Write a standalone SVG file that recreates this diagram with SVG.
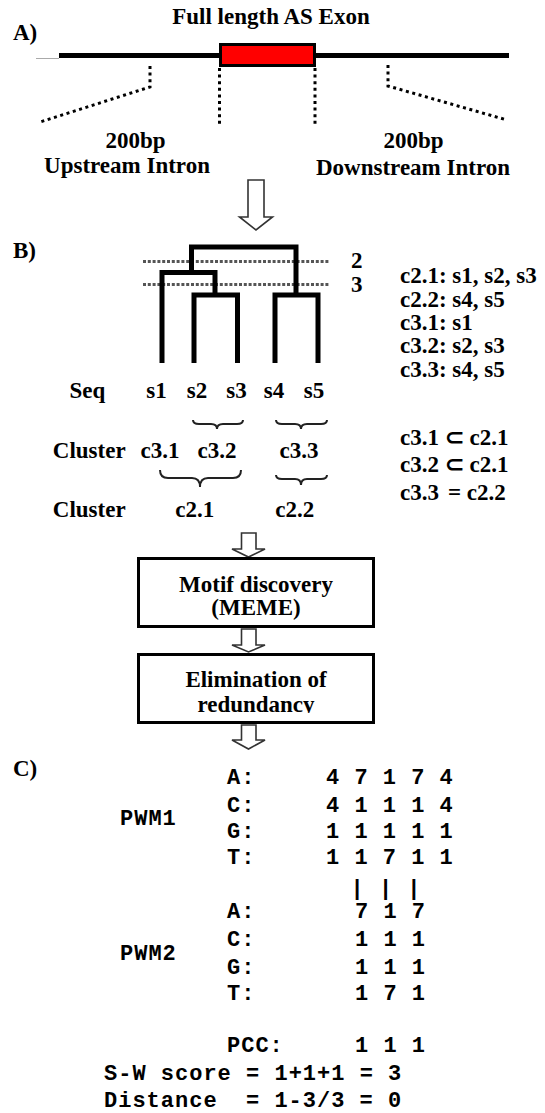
<svg xmlns="http://www.w3.org/2000/svg" width="545" height="1113" viewBox="0 0 545 1113">
<defs>
<style>
.t{font-family:"Liberation Serif","Times New Roman",serif;font-weight:bold;font-size:23px;fill:#000}
.m{font-family:"Liberation Mono","Courier New",monospace;font-weight:bold;font-size:22px;letter-spacing:1px;fill:#000}
.c{text-anchor:middle}
.dot{fill:none;stroke:#000;stroke-width:3;stroke-dasharray:3 3.6}
.gdot{fill:none;stroke:#555;stroke-width:3;stroke-dasharray:3 1.8}
.tree{fill:none;stroke:#000;stroke-width:5;stroke-linejoin:miter;stroke-linecap:butt}
.arr{fill:#fff;stroke:#333;stroke-width:1.6;stroke-linejoin:miter}
.brace{fill:none;stroke:#222;stroke-width:2}
.box{fill:#fff;stroke:#000;stroke-width:3}
</style>
<clipPath id="clipRed"><rect x="130" y="690" width="250" height="23"/></clipPath>
</defs>
<rect width="545" height="1113" fill="#fff"/>

<g id="sectionA">
<text class="t" x="13" y="40">A)</text>
<text class="t c" x="271" y="24">Full length AS Exon</text>
<line x1="36" y1="58.5" x2="59" y2="58.5" stroke="#aaa" stroke-width="1"/>
<line x1="59" y1="55.5" x2="509" y2="55.5" stroke="#000" stroke-width="5"/>
<rect id="exon" x="220.5" y="44.5" width="94" height="21" fill="#f00" stroke="#000" stroke-width="3"/>
<polyline class="dot" points="150,66 150,87 40,122"/>
<line class="dot" x1="219.5" y1="68" x2="219.5" y2="125"/>
<line class="dot" x1="315" y1="68" x2="315" y2="125"/>
<polyline class="dot" points="388,65 388,86 507,120"/>
<text class="t c" x="135.5" y="148">200bp</text>
<text class="t c" x="127" y="173">Upstream Intron</text>
<text class="t c" x="413.5" y="148">200bp</text>
<text class="t c" x="413" y="175">Downstream Intron</text>
</g>

<g id="sectionB">
<text class="t" x="13" y="258">B)</text>
<line class="gdot" x1="143" y1="261.5" x2="330" y2="261.5"/>
<line class="gdot" x1="143" y1="284.5" x2="330" y2="284.5"/>
<path class="tree" d="M162,363 V272.5 H215 V295 M194,363 V295 H237.5 V363 M191.5,272.5 V247 H296 V295 M275,363 V295 H318 V363 M159.5,272.5 H164.5 M191.5,295 H196.5 M235,295 H240 M272.5,295 H277.5 M315.5,295 H320.5 M189,247 H194 M293.5,247 H298.5 M212.5,272.5 H217.5"/>
<text class="t" x="351" y="268">2</text>
<text class="t" x="351" y="292">3</text>
<text class="t" x="400" y="283">c2.1: s1, s2, s3</text>
<text class="t" x="400" y="307">c2.2: s4, s5</text>
<text class="t" x="400" y="330">c3.1: s1</text>
<text class="t" x="400" y="353">c3.2: s2, s3</text>
<text class="t" x="400" y="377">c3.3: s4, s5</text>
<text class="t" x="69.5" y="398">Seq</text>
<text class="t c" x="156.5" y="398">s1</text>
<text class="t c" x="197" y="398">s2</text>
<text class="t c" x="236.5" y="398">s3</text>
<text class="t c" x="274" y="398">s4</text>
<text class="t c" x="314" y="398">s5</text>
<path class="brace" d="M193,420 Q193,424 199,424 L211,424 Q217,424 217,429 Q217,424 223,424 L237,424 Q243,424 243,420"/>
<path class="brace" d="M276,420 Q276,424 282,424 L295,424 Q301,424 301,429 Q301,424 307,424 L321,424 Q327,424 327,420"/>
<text class="t" x="52.8" y="458">Cluster</text>
<text class="t c" x="160" y="458">c3.1</text>
<text class="t c" x="217" y="458">c3.2</text>
<text class="t c" x="299" y="458">c3.3</text>
<path class="brace" d="M160,470 Q160,478 168,478 L192,478 Q200,478 200,487 Q200,478 208,478 L233,478 Q241,478 241,470"/>
<path class="brace" d="M276,475 Q276,479 282,479 L295,479 Q301,479 301,485 Q301,479 307,479 L321,479 Q327,479 327,475"/>
<text class="t" x="52.8" y="517">Cluster</text>
<text class="t c" x="194.7" y="517">c2.1</text>
<text class="t c" x="294.7" y="517">c2.2</text>
<text class="t" x="400" y="445">c3.1 ⊂ c2.1</text>
<text class="t" x="400" y="472">c3.2 ⊂ c2.1</text>
<text class="t" x="400" y="500">c3.3</text>
<text class="t" x="448" y="500">= c2.2</text>
</g>

<g id="connectors">
<path class="arr" d="M248,180 H264 V217 H272.5 L256,230 L239.5,217 H248 Z"/>
<path class="arr" d="M241.5,533 H256 V549 H265 L248.5,557 L232,549 H241.5 Z"/>
<path class="arr" d="M241.5,629 H256 V645 H265 L248.5,652 L232,645 H241.5 Z"/>
<path class="arr" d="M241.5,725 H256 V740 H265 L248.5,749 L232,740 H241.5 Z"/>
</g>

<g id="node-motif">
<rect class="box" x="138.5" y="558.5" width="235" height="68"/>
<text class="t c" x="256" y="592">Motif discovery</text>
<text class="t c" x="256" y="615">(MEME)</text>
</g>

<g id="node-elimination">
<rect class="box" x="138.5" y="654.5" width="235" height="68"/>
<text class="t c" x="256" y="687">Elimination of</text>
<text class="t c" x="256" y="712" clip-path="url(#clipRed)">redundancy</text>
</g>

<g id="sectionC">
<text class="t" x="13" y="776">C)</text>
<text class="m" x="120" y="825">PWM1</text>
<text class="m" x="227" y="784">A:</text>
<text class="m" x="326" y="784">4 7 1 7 4</text>
<text class="m" x="227" y="812">C:</text>
<text class="m" x="326" y="812">4 1 1 1 4</text>
<text class="m" x="227" y="838">G:</text>
<text class="m" x="326" y="838">1 1 1 1 1</text>
<text class="m" x="227" y="864">T:</text>
<text class="m" x="326" y="864">1 1 7 1 1</text>
<text class="m" x="350.5" y="895">| | |</text>
<text class="m" x="120" y="960">PWM2</text>
<text class="m" x="227" y="918">A:</text>
<text class="m" x="355" y="918">7 1 7</text>
<text class="m" x="227" y="946">C:</text>
<text class="m" x="355" y="946">1 1 1</text>
<text class="m" x="227" y="974">G:</text>
<text class="m" x="355" y="974">1 1 1</text>
<text class="m" x="227" y="1000">T:</text>
<text class="m" x="355" y="1000">1 7 1</text>
<text class="m" x="227" y="1052">PCC:</text>
<text class="m" x="355" y="1052">1 1 1</text>
<text class="m" x="104" y="1080">S-W score = 1+1+1 = 3</text>
<text class="m" x="104" y="1107">Distance</text>
<text class="m" x="246" y="1107">= 1-3/3 = 0</text>
</g>
</svg>
